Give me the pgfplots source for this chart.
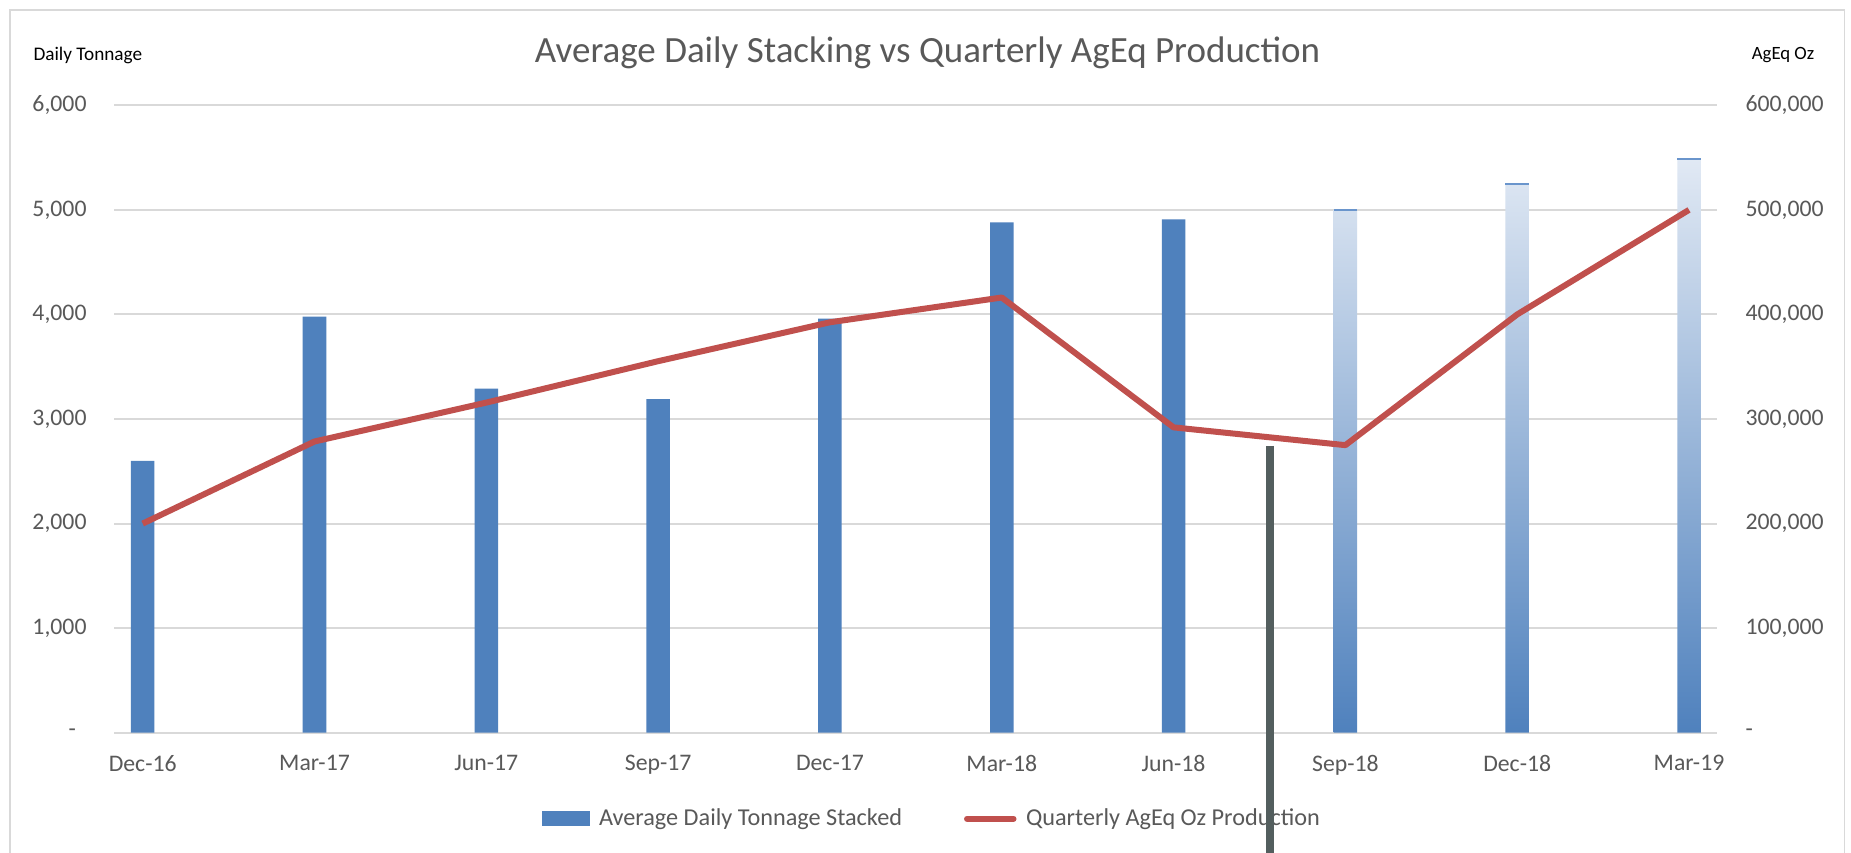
\documentclass[border=0pt]{standalone}
\usepackage{fontspec}
\setmainfont{Carlito}
\usepackage{pgfplots}
\pgfplotsset{compat=1.18}
\definecolor{barblue}{HTML}{4F81BD}
\definecolor{gradtop}{HTML}{E1E9F4}
\definecolor{captop}{HTML}{6A95CC}
\definecolor{linered}{HTML}{C0504D}
\definecolor{gridgray}{HTML}{D9D9D9}
\definecolor{textgray}{HTML}{595959}
\definecolor{slate}{HTML}{535E5E}
\begin{document}
\begin{tikzpicture}
\useasboundingbox (0,0) rectangle (740.4pt,340.8pt);
\fill[white] (0,0) rectangle (740.4pt,340.8pt);
\draw[gridgray, line width=0.7pt] (4pt,-20pt) -- (4pt,336.8pt) -- (737.8pt,336.8pt) -- (737.8pt,-20pt);
\node[text=textgray, font=\fontsize{14.8}{17}\selectfont] at (371pt,319.6pt) {Average Daily Stacking vs Quarterly AgEq Production};
\node[anchor=west, inner sep=0pt, font=\fontsize{7.7}{9}\selectfont] at (13.2pt,318.8pt) {Daily Tonnage};
\node[inner sep=0pt, font=\fontsize{7.5}{9}\selectfont] at (713.2pt,318.8pt) {AgEq Oz};
\begin{axis}[
  at={(45.72pt,47.72pt)}, anchor=south west, scale only axis,
  width=641.08pt, height=250.96pt,
  xmin=-0.1653, xmax=9.163, ymin=0, ymax=6000,
  xtick={0,...,9},
  xticklabels={Dec-16,Mar-17,Jun-17,Sep-17,Dec-17,Mar-18,Jun-18,Sep-18,Dec-18,Mar-19},
  ytick={0,1000,2000,3000,4000,5000,6000},
  yticklabels={{\makebox[7.2pt][l]{-}},{1,000},{2,000},{3,000},{4,000},{5,000},{6,000}},
  scaled y ticks=false,
  axis line style={draw=none}, major tick length=0pt,
  ymajorgrids, grid style={gridgray, line width=0.8pt},
  ticklabel style={font=\fontsize{9.5}{11}\selectfont, text=textgray},
  yticklabel style={inner sep=0pt, xshift=-10.9pt},
  xticklabel style={inner sep=0pt, yshift=-8.9pt},
  clip=false,
  legend columns=2,
  legend style={at={(0.5125,-0.137)}, anchor=center, draw=none, fill=none,
    font=\fontsize{9.7}{11}\selectfont, text=textgray,
    /tikz/every even column/.append style={column sep=21pt},
    nodes={inner sep=3.8pt}},
]
\addplot[ybar, bar width=0.137, bar shift=0pt, fill=barblue, draw=none,
  legend image code/.code={\fill[barblue] (0pt,-3pt) rectangle (19pt,3pt);}]
  coordinates {(0,2600) (1,3980) (2,3290) (3,3190) (4,3960) (5,4880) (6,4910)};
\addlegendentry{Average Daily Tonnage Stacked}
\addplot[ybar, bar width=0.137, bar shift=0pt, draw=none, top color=gradtop, bottom color=barblue, forget plot]
  coordinates {(7,5000) (8,5250) (9,5490)};
\addplot[only marks, mark=-, mark size=4.7pt, mark options={draw=captop, line width=0.8pt}, forget plot]
  coordinates {(7,5000) (8,5250) (9,5490)};
\addlegendimage{legend image code/.code={\draw[linered, line width=2.4pt, line cap=round] (0.8pt,0pt) -- (19.4pt,0pt);}}
\addlegendentry{Quarterly AgEq Oz Production}
\end{axis}
\begin{axis}[
  at={(45.72pt,47.72pt)}, anchor=south west, scale only axis,
  width=641.08pt, height=250.96pt,
  xmin=-0.1653, xmax=9.163, ymin=0, ymax=600000,
  xtick=\empty,
  ytick={0,100000,200000,300000,400000,500000,600000},
  yticklabels={{-},{100,000},{200,000},{300,000},{400,000},{500,000},{600,000}},
  scaled y ticks=false,
  yticklabel pos=right,
  axis line style={draw=none}, major tick length=0pt,
  ticklabel style={font=\fontsize{9.5}{11}\selectfont, text=textgray},
  yticklabel style={inner sep=0pt, anchor=west, xshift=11.2pt},
  clip=false,
]
\addplot[linered, line width=2.4pt, line join=round]
  coordinates {(0,200000) (1,278500) (2,315700) (3,355300) (4,392500) (5,416200) (6,292000) (7,275000) (8,400000) (9,500000)};
\addplot[slate, line width=3.2pt]
  coordinates {(6.562,274200) (6.562,-150000)};
\end{axis}
\end{tikzpicture}
\end{document}
